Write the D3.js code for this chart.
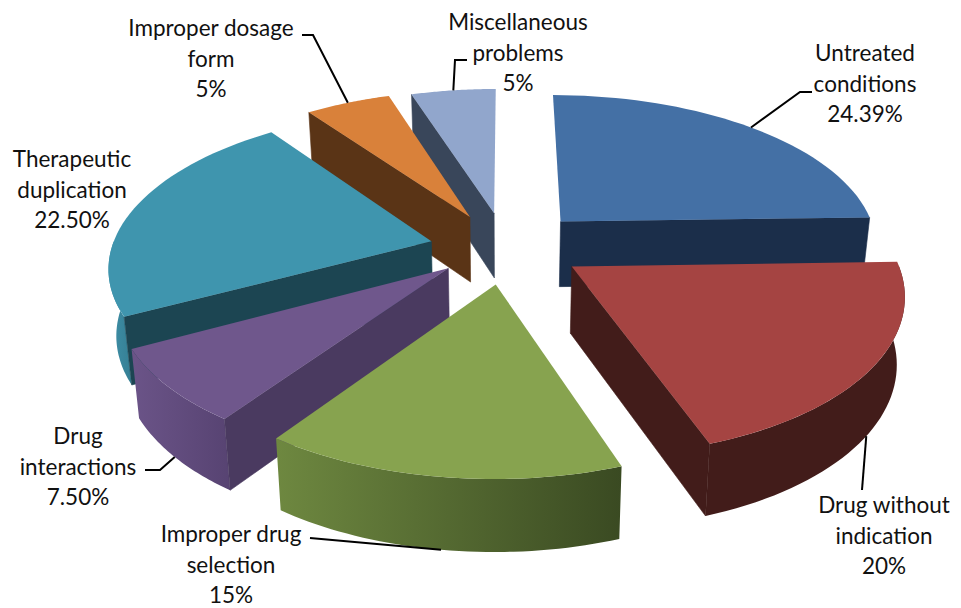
<!DOCTYPE html>
<html>
<head>
<meta charset="utf-8">
<script src="https://d3js.org/d3.v7.min.js"></script>
<style>
body{margin:0;background:#fff}
text{font-family:Lato,sans-serif;font-size:22.5px;fill:#111;text-anchor:middle}
</style>
</head>
<body>
<div id="grafico"></div>
<script>
// data
const categories=["Untreated\nconditions","Drug without\nindication","Improper drug\nselection","Drug\ninteractions","Therapeutic\nduplication","Improper dosage\nform","Miscellaneous\nproblems"];
const values=[24.39,20,15,7.5,22.5,5,5];
const valueLabels=["24.39%","20%","15%","7.50%","22.50%","5%","5%"];
const explode=[88,84,72,75,72,70,85];
// small screen corrections per slice, the picture is not a perfect projection
const nudgeX=[1,1,6,6,1,1,7];
const nudgeY=[1,-7,-1,-6,-1,-4,2];

// colours
const topColors=["#4470a5","#a54442","#87a34f","#6f578c","#3f95ae","#d9813a","#91a6cc"];
const sideColors=["#1b2e4a","#421c1a","#3a4a22","#4a3a60","#1c4552","#5a3416","#39465a"];
const wallFrom=["#1b2e4a","#421c1a","#6e8840","#6b5488","#3f90a8","#5a3416","#39465a"];
const wallTo=["#1b2e4a","#421c1a","#3a4a22","#574372","#357f94","#5a3416","#39465a"];

// label placement: centre x, first baseline
const labelX=[865,884,231,78,72,211,518];
const labelY=[61,513,542,444,167,36,30];
const leaderLevel=["top","bottom","bottom","bottom","top","top","top"];
const leaderPath=[[[800,92],[812,92]],[[862,490]],[[310,538]],[[160,470],[145,470]],[],[[313,35],[302,35]],[[455,60],[467,60]]];

const width=961,height=608;
const cx=500,cy=250,R=320,tilt=.48,persp=.15,depth=66,shrink=.98;

const svg=d3.select("#grafico").append("svg").attr("width",width).attr("height",height).style("display","block");
const defs=svg.append("defs");

// pie plane to screen
function project(a,r,i,mid,level){
    const off=explode[i];
    const X=off*Math.sin(mid)+r*Math.sin(a);
    const Z=-(off*Math.cos(mid)+r*Math.cos(a));
    const s=1/(1-Z/R*persp);
    if(level==="top") return [cx+nudgeX[i]+X*s,cy+nudgeY[i]+Z*tilt*s];
    return [cx+nudgeX[i]+X*s*shrink,cy+nudgeY[i]+Z*tilt*s*shrink+depth*Math.pow(s,.8)];
}

const pie=d3.pie().value(d=>d).sort(null);
const slices=pie(values).map((d,i)=>{
    d.i=i;
    d.mid=(d.startAngle+d.endAngle)/2;
    return d;
});
const line=d3.line();
const order=slices.slice().sort((a,b)=>Math.cos(b.mid)-Math.cos(a.mid));

order.forEach(d=>{
    const i=d.i;
    const P=(a,r,level)=>project(a,r,i,d.mid,level);
    const g=svg.append("g").attr("class","slice");

    // outer wall, front half only
    const a0=Math.max(d.startAngle,Math.PI/2),a1=Math.min(d.endAngle,Math.PI*1.5);
    if(a1>a0){
        const grad=defs.append("linearGradient").attr("id","wall"+i);
        grad.append("stop").attr("offset",0).attr("stop-color",wallFrom[i]);
        grad.append("stop").attr("offset",1).attr("stop-color",wallTo[i]);
        const steps=d3.range(0,41).map(t=>a0+(a1-a0)*t/40);
        const pts=steps.map(a=>P(a,R,"top")).concat(steps.slice().reverse().map(a=>P(a,R,"bottom")));
        g.append("path").attr("d",line(pts)+"Z").attr("fill",`url(#wall${i})`);
    }

    // flat walls, only the ones turned to the viewer
    const faces=[
        [P(0,0,"top"),P(d.startAngle,R,"top"),P(d.startAngle,R,"bottom"),P(0,0,"bottom")],
        [P(d.endAngle,R,"top"),P(0,0,"top"),P(0,0,"bottom"),P(d.endAngle,R,"bottom")]
    ];
    faces.forEach(f=>{
        if(d3.polygonArea(f)>1000){
            g.append("path").attr("d",line(f)+"Z").attr("fill",sideColors[i])
                .attr("stroke",sideColors[i]).attr("stroke-width",.6);
        }
    });

    // top face
    const arc=d3.range(0,41).map(t=>P(d.startAngle+(d.endAngle-d.startAngle)*t/40,R,"top"));
    g.append("path").attr("d",line([P(0,0,"top")].concat(arc))+"Z").attr("fill",topColors[i]);
});

// leader lines
slices.forEach(d=>{
    const i=d.i;
    if(!leaderPath[i].length) return;
    const start=project(d.mid,R,i,d.mid,leaderLevel[i]);
    svg.append("path")
        .attr("d",line([start].concat(leaderPath[i])))
        .attr("fill","none").attr("stroke","#000").attr("stroke-width",2);
});

// labels
slices.forEach(d=>{
    const i=d.i;
    const rows=categories[i].split("\n").concat(valueLabels[i]);
    const t=svg.append("text").attr("x",labelX[i]).attr("y",labelY[i]);
    rows.forEach((r,k)=>{
        t.append("tspan").attr("x",labelX[i]).attr("dy",k?30.5:0).text(r);
    });
});
</script>
</body>
</html>
